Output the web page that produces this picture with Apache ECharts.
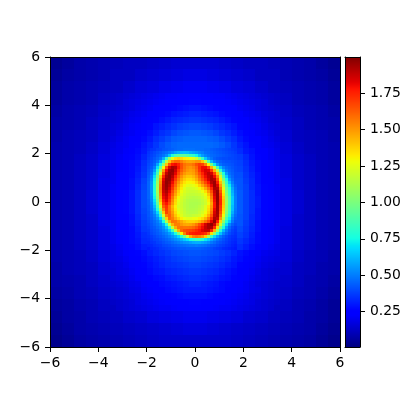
<!DOCTYPE html>
<html><head><meta charset="utf-8">
<style>html,body{margin:0;padding:0;background:#fff}#c{width:400px;height:400px}</style>
<script src="https://cdn.jsdelivr.net/npm/echarts@6/dist/echarts.min.js"></script>
</head><body><div id="c"></div>
<script>
const _ = null;
// Values, in hundredths. null = hidden under a finer level.
const xTicks = [-6,-4,-2,0,2,4,6];
const barTicks = [0.25,0.5,0.75,1,1.25,1.5,1.75];
const vMin = 0.008, vMax = 1.997;
// step 0.5, x from -5.75, y from 5.75 downward
const zOuter = [
[4,6,8,9,10,11,12,12,13,14,15,15,15,15,14,13,12,12,11,10,9,8,6,4],
[5,7,8,9,10,12,12,14,15,16,17,18,18,17,16,15,14,12,12,10,9,8,7,5],
[6,8,9,10,11,12,14,16,17,19,20,21,21,20,19,17,16,14,12,11,10,9,8,6],
[6,8,9,10,12,_,_,_,_,_,_,_,_,_,_,_,_,_,_,12,10,9,8,6],
[7,9,10,11,13,_,_,_,_,_,_,_,_,_,_,_,_,_,_,13,11,10,9,7],
[8,9,10,12,14,_,_,_,_,_,_,_,_,_,_,_,_,_,_,14,12,10,9,8],
[8,10,11,12,15,_,_,_,_,_,_,_,_,_,_,_,_,_,_,15,12,11,10,8],
[9,10,11,13,16,_,_,_,_,_,_,_,_,_,_,_,_,_,_,16,13,11,10,9],
[9,10,12,14,17,_,_,_,_,_,_,_,_,_,_,_,_,_,_,17,14,12,10,9],
[9,10,12,14,17,_,_,_,_,_,_,_,_,_,_,_,_,_,_,17,14,12,10,9],
[9,10,12,14,18,_,_,_,_,_,_,_,_,_,_,_,_,_,_,18,14,12,10,9],
[9,10,12,15,18,_,_,_,_,_,_,_,_,_,_,_,_,_,_,18,15,12,10,9],
[9,10,12,15,18,_,_,_,_,_,_,_,_,_,_,_,_,_,_,18,15,12,10,9],
[9,10,12,14,18,_,_,_,_,_,_,_,_,_,_,_,_,_,_,18,14,12,10,9],
[9,10,12,14,17,_,_,_,_,_,_,_,_,_,_,_,_,_,_,17,14,12,10,9],
[9,10,12,14,17,_,_,_,_,_,_,_,_,_,_,_,_,_,_,17,14,12,10,9],
[9,10,11,13,16,_,_,_,_,_,_,_,_,_,_,_,_,_,_,16,13,11,10,8],
[8,10,11,12,15,_,_,_,_,_,_,_,_,_,_,_,_,_,_,15,12,11,9,8],
[8,9,10,12,14,_,_,_,_,_,_,_,_,_,_,_,_,_,_,14,12,10,9,7],
[7,8,10,11,13,_,_,_,_,_,_,_,_,_,_,_,_,_,_,13,11,10,8,6],
[6,7,9,10,12,_,_,_,_,_,_,_,_,_,_,_,_,_,_,12,10,9,7,5],
[5,7,8,10,11,12,14,15,17,18,19,20,20,19,18,17,15,14,12,11,10,8,7,5],
[4,6,8,9,10,11,12,13,14,15,16,17,17,16,15,14,13,12,11,10,9,8,6,4],
[3,5,7,8,9,10,11,12,13,14,14,14,14,14,14,13,12,11,10,9,8,7,5,3]
];
// step 0.25, x from -3.375, y from 4.375 downward
const zMid = [
[13,14,15,16,17,18,19,20,21,22,22,23,23,24,24,23,23,22,22,21,20,19,18,17,16,15,14,13],
[13,14,16,17,18,19,20,21,22,23,24,25,25,26,26,25,25,24,23,22,21,20,19,18,17,16,14,13],
[14,15,16,17,19,20,21,23,24,25,26,27,28,29,29,28,27,26,25,24,23,21,20,19,17,16,15,14],
[15,16,17,19,20,21,23,24,26,27,29,30,31,32,32,31,30,29,27,26,24,23,21,20,19,17,16,15],
[15,16,18,20,21,23,25,26,28,30,32,33,34,35,35,34,33,32,30,28,26,25,23,21,20,18,16,15],
[16,17,19,21,22,24,26,29,31,33,35,37,38,39,39,38,37,35,33,31,29,26,24,22,21,19,17,16],
[16,18,20,21,23,26,28,31,34,36,39,41,42,43,43,42,41,39,36,34,31,28,26,23,21,20,18,16],
[17,19,21,23,25,27,30,34,37,40,43,44,45,45,45,45,44,43,40,37,34,30,27,25,23,21,19,17],
[18,20,21,24,26,29,32,36,40,43,45,46,46,46,46,46,46,45,43,40,36,32,29,26,24,21,20,18],
[19,20,22,25,27,30,_,_,_,_,_,_,_,_,_,_,_,_,_,_,_,34,30,28,25,23,21,19],
[19,21,23,26,28,32,_,_,_,_,_,_,_,_,_,_,_,_,_,_,_,37,33,29,26,23,21,19],
[20,22,24,27,29,34,_,_,_,_,_,_,_,_,_,_,_,_,_,_,_,38,34,30,27,24,22,20],
[20,22,25,27,30,35,_,_,_,_,_,_,_,_,_,_,_,_,_,_,_,39,35,31,27,24,22,20],
[20,23,25,27,31,36,_,_,_,_,_,_,_,_,_,_,_,_,_,_,_,41,36,32,28,25,22,20],
[20,23,25,28,32,38,_,_,_,_,_,_,_,_,_,_,_,_,_,_,_,42,37,33,28,25,23,20],
[21,23,25,28,33,39,_,_,_,_,_,_,_,_,_,_,_,_,_,_,_,42,38,33,29,26,23,21],
[21,24,26,29,34,40,_,_,_,_,_,_,_,_,_,_,_,_,_,_,_,43,38,34,29,26,23,21],
[21,24,26,29,34,40,_,_,_,_,_,_,_,_,_,_,_,_,_,_,_,43,38,34,30,26,24,21],
[21,24,26,29,34,40,_,_,_,_,_,_,_,_,_,_,_,_,_,_,_,43,38,34,30,26,24,21],
[21,24,26,29,34,39,_,_,_,_,_,_,_,_,_,_,_,_,_,_,_,43,38,34,29,26,23,21],
[21,23,25,28,33,38,_,_,_,_,_,_,_,_,_,_,_,_,_,_,_,42,38,33,29,26,23,21],
[20,23,25,28,32,37,_,_,_,_,_,_,_,_,_,_,_,_,_,_,_,42,37,33,28,25,23,20],
[20,23,25,27,31,36,_,_,_,_,_,_,_,_,_,_,_,_,_,_,_,40,36,32,28,25,22,20],
[20,22,25,27,30,34,_,_,_,_,_,_,_,_,_,_,_,_,_,_,_,38,35,31,27,24,22,20],
[20,22,24,27,29,33,_,_,_,_,_,_,_,_,_,_,_,_,_,_,_,36,33,30,27,24,22,20],
[19,21,23,26,28,31,_,_,_,_,_,_,_,_,_,_,_,_,_,_,_,34,31,28,26,23,21,19],
[18,20,22,24,26,28,31,33,35,37,39,40,41,42,42,41,40,39,37,35,32,29,27,24,22,20,19,18],
[18,19,21,23,25,27,29,31,33,35,37,38,39,40,40,39,38,37,35,33,30,28,26,23,21,19,18,17],
[17,18,20,22,24,26,28,30,32,34,35,36,37,38,38,37,36,35,33,31,29,26,25,22,20,18,17,16],
[16,18,19,21,23,25,27,29,30,32,33,34,35,36,36,35,34,33,31,29,27,25,23,21,19,17,16,15],
[16,17,18,20,22,24,25,27,28,30,31,32,33,34,34,33,32,31,29,28,26,24,22,20,18,17,16,15],
[15,16,17,19,20,22,24,25,27,28,29,30,31,32,32,31,30,29,27,26,24,23,21,19,17,16,15,14],
[14,15,16,18,19,21,22,24,25,27,28,29,30,30,30,30,29,28,27,25,24,22,21,19,18,16,15,14],
[14,15,16,17,18,20,21,22,24,25,26,27,28,28,28,28,27,26,25,24,22,21,20,18,17,16,15,14],
[13,14,15,16,18,19,20,21,22,23,24,25,25,26,26,25,25,24,23,22,21,20,19,18,16,15,14,13],
[12,14,15,16,17,18,19,20,21,21,22,23,23,24,24,23,23,22,21,21,20,19,18,17,16,15,14,12]
];
// step 0.125, x from -1.9375, y from 2.1875 downward
const zCore = [
[33,35,36,38,39,41,42,43,44,45,46,46,47,47,47,47,46,46,46,45,45,44,43,42,41,40,39,38,37,36],
[35,37,39,41,43,45,47,50,53,57,60,62,63,62,59,57,55,52,50,47,46,45,44,43,42,41,40,39,38,37],
[36,38,40,43,45,48,53,64,78,88,92,93,93,90,85,82,74,64,56,51,48,46,45,44,43,42,41,40,39,38],
[37,39,42,45,49,60,82,108,125,135,138,136,132,130,128,125,118,102,84,65,54,48,44,42,41,40,40,39,39,38],
[38,40,43,48,60,82,115,140,155,160,160,155,150,147,146,147,150,150,140,118,88,62,51,46,44,42,41,41,40,39],
[39,41,45,58,76,105,140,165,178,180,175,165,158,155,155,158,165,170,168,155,130,98,72,55,47,44,43,42,41,39],
[40,43,50,70,95,130,165,185,193,190,178,165,157,152,150,153,160,172,180,180,168,145,118,85,63,51,46,44,42,40],
[41,45,56,80,112,150,180,194,196,186,172,162,155,150,148,150,158,170,180,185,183,170,145,115,82,60,49,45,43,40],
[42,47,63,88,125,163,188,196,194,182,167,157,150,146,146,148,155,165,175,183,189,185,168,140,105,77,56,47,44,41],
[43,50,70,98,140,175,193,197,190,176,161,151,144,140,140,143,150,160,170,180,188,192,180,155,120,88,66,50,45,41],
[44,52,74,104,148,182,196,196,185,170,156,146,139,135,135,138,145,155,165,175,185,193,190,166,132,100,76,56,47,42],
[45,54,76,108,152,186,197,193,180,164,151,141,134,130,130,132,138,147,157,167,178,190,195,176,142,110,83,64,50,43],
[45,55,78,110,155,188,196,190,175,160,146,136,129,125,124,126,130,138,147,157,168,182,195,184,150,118,90,72,54,45],
[45,55,78,112,157,188,195,186,171,155,142,132,125,121,121,122,124,129,136,146,158,174,192,191,158,125,96,78,58,47],
[45,55,78,110,155,186,192,182,166,151,138,128,123,120,119,119,120,122,127,135,148,166,188,196,165,130,100,82,60,48],
[45,54,76,108,152,183,189,178,162,147,135,125,121,118,117,117,118,119,122,128,140,160,185,197,170,134,103,84,62,49],
[45,53,74,105,148,180,186,175,157,141,129,122,119,116,115,114,115,116,119,124,134,155,182,197,173,138,107,88,65,50],
[44,52,70,100,142,176,183,171,153,137,126,121,117,114,113,113,113,114,117,121,131,151,180,197,175,140,108,88,65,50],
[44,50,66,94,135,170,178,166,150,135,124,120,116,114,112,112,112,113,116,120,128,147,178,196,175,140,108,88,65,50],
[43,49,62,86,125,163,172,158,144,131,122,120,116,114,112,112,113,115,118,124,133,150,178,195,172,138,106,86,63,50],
[43,48,58,78,112,153,170,158,146,133,124,121,117,114,113,113,114,116,119,125,135,153,181,195,170,136,105,86,63,49],
[42,46,54,68,97,140,168,160,149,136,127,122,118,115,114,114,115,118,122,128,138,157,184,194,166,133,102,83,60,48],
[42,45,50,60,82,122,155,162,152,140,131,124,119,117,116,118,119,121,126,133,145,164,187,193,160,127,97,78,56,46],
[41,44,48,54,67,100,138,160,155,146,138,131,127,125,125,127,128,131,136,144,156,173,192,188,150,118,88,72,52,44],
[40,43,46,50,57,76,112,145,158,157,151,146,141,138,137,137,139,143,149,158,168,183,196,176,136,105,78,65,49,42],
[39,42,45,48,52,60,80,118,145,155,155,150,147,146,147,150,156,165,175,185,193,197,186,155,120,90,68,52,44,40],
[38,41,43,46,49,54,64,85,118,145,157,158,157,157,158,160,165,172,180,188,193,192,172,135,100,76,57,46,40,37],
[37,40,42,44,47,51,56,66,85,115,145,160,165,167,168,170,174,178,183,187,188,175,145,108,80,62,50,43,38,36],
[36,39,41,43,45,48,51,56,63,76,100,130,155,170,175,177,178,178,176,172,160,135,105,80,64,52,45,40,37,35],
[35,37,39,41,43,45,48,51,55,60,68,80,98,120,145,155,158,155,150,138,110,85,68,57,49,44,40,37,35,34],
[34,36,38,39,41,43,45,47,50,53,56,60,65,70,76,80,84,84,80,72,66,58,52,47,44,41,38,36,34,33],
[33,35,36,38,39,41,43,44,46,48,50,52,54,55,57,59,60,60,58,56,53,49,46,43,41,39,37,35,33,32],
[32,33,35,36,37,39,40,41,43,44,45,46,47,48,49,49,50,49,48,47,45,43,42,40,38,37,35,34,32,31],
[30,32,33,34,36,37,38,39,40,41,42,43,43,44,44,44,44,44,43,42,41,40,38,37,36,34,33,32,31,30]
];
const outerStart = [-5.75, 5.75, 0.5], midStart = [-3.375, 4.375, 0.25], coreStart = [-1.9375, 2.1875, 0.125];

function cells(rows, s) {
  const out = [];
  rows.forEach((row, j) => row.forEach((v, i) => {
    if (v !== null) out.push([s[0] + i * s[2], s[1] - j * s[2], v / 100, s[2]]);
  }));
  return out;
}
function jetChannel(pts, t) {
  for (let k = 1; k < pts.length; k++) {
    if (t <= pts[k][0]) {
      const a = pts[k-1], b = pts[k];
      return a[1] + (b[1]-a[1]) * (t-a[0]) / (b[0]-a[0]);
    }
  }
  return pts[pts.length-1][1];
}
const jetColors = [];
for (let i = 0; i <= 128; i++) {
  const t = i / 128;
  const r = jetChannel([[0,0],[.35,0],[.66,1],[.89,1],[1,.5]], t);
  const g = jetChannel([[0,0],[.125,0],[.375,1],[.64,1],[.91,0],[1,0]], t);
  const b = jetChannel([[0,.5],[.11,1],[.34,1],[.65,0],[1,0]], t);
  jetColors.push('rgb(' + [r,g,b].map(c => Math.round(c*255)).join(',') + ')');
}
function renderCell(params, api) {
  const x = api.value(0), y = api.value(1), s = api.value(3) / 2;
  const a = api.coord([x - s, y + s]), b = api.coord([x + s, y - s]);
  const x0 = Math.round(a[0]), y0 = Math.round(a[1]);
  return { type:'rect', shape:{x:x0, y:y0, width:Math.round(b[0])-x0, height:Math.round(b[1])-y0},
           style:{fill:api.visual('color')} };
}
// colour bar swatches: one band per level of the colour scale
const barLevels = [];
const barBands = 290;
for (let i = 0; i < barBands; i++) barLevels.push(vMin + (vMax - vMin) * (i + 0.5) / barBands);
const barHalf = (vMax - vMin) / barBands / 2;
function renderBand(params, api) {
  const v = api.value(2);
  const a = api.coord([0, v + barHalf]), b = api.coord([1, v - barHalf]);
  const x0 = Math.round(a[0]), y0 = Math.round(a[1]);
  return { type:'rect', shape:{x:x0, y:y0, width:Math.round(b[0])-x0, height:Math.round(b[1])-y0},
           style:{fill:api.visual('color')} };
}
const font = {color:'#000', fontFamily:'DejaVu Sans', fontSize:13.9};
const minus = v => String(v).replace('-', '\u2212');
const tickLine = {lineStyle:{color:'#000', width:1}};
const lineOnly = {show:true, onZero:false, lineStyle:{color:'#000', width:1}};
const frameAxis = (extra) => Object.assign({type:'value', z:10, axisLine:lineOnly, axisTick:{show:false},
  axisLabel:{show:false}, splitLine:{show:false}}, extra);
const series = [zOuter, zMid, zCore].map((rows, i) => ({
  type:'custom', xAxisIndex:0, yAxisIndex:0, renderItem:renderCell, silent:true, animation:false,
  clip:true, encode:{x:0, y:1}, data:cells(rows, [outerStart, midStart, coreStart][i]), z:2+i
}));
series.push({type:'custom', xAxisIndex:2, yAxisIndex:2, renderItem:renderBand, silent:true, animation:false,
  encode:{x:0, y:1}, data:barLevels.map(v => [0.5, v, v]), z:2});
const chart = echarts.init(document.getElementById('c'), null, {renderer:'canvas'});
chart.setOption({
  animation:false,
  grid:[{left:50, top:57, width:290, height:290, outerBoundsMode:'none'}, {left:345, top:57, width:15, height:290, outerBoundsMode:'none'}],
  xAxis:[
    {type:'value', gridIndex:0, min:-6, max:6, interval:2, z:10, axisLine:lineOnly,
     axisTick:Object.assign({length:5}, tickLine), splitLine:{show:false},
     axisLabel:Object.assign({margin:9, formatter:minus, showMinLabel:true, showMaxLabel:true}, font)},
    frameAxis({gridIndex:0, min:-6, max:6, position:'top'}),
    frameAxis({gridIndex:1, min:0, max:1, position:'bottom'}),
    frameAxis({gridIndex:1, min:0, max:1, position:'top'})
  ],
  yAxis:[
    {type:'value', gridIndex:0, min:-6, max:6, interval:2, z:10, axisLine:lineOnly,
     axisTick:Object.assign({length:5}, tickLine), splitLine:{show:false},
     axisLabel:Object.assign({margin:10, padding:[3,0,0,0], formatter:minus, showMinLabel:true, showMaxLabel:true}, font)},
    frameAxis({gridIndex:0, min:-6, max:6, position:'right'}),
    frameAxis({gridIndex:1, min:vMin, max:vMax, position:'left'}),
    {type:'value', gridIndex:1, min:vMin, max:vMax, position:'right', z:10, axisLine:lineOnly,
     axisTick:Object.assign({length:5, customValues:barTicks}, tickLine), splitLine:{show:false},
     axisLabel:Object.assign({margin:10, padding:[3,0,0,0], customValues:barTicks, formatter:v => v.toFixed(2)}, font)}
  ],
  visualMap:{type:'continuous', show:false, min:vMin, max:vMax, dimension:2, seriesIndex:[0,1,2,3],
    inRange:{color:jetColors}},
  series
});
</script></body></html>
